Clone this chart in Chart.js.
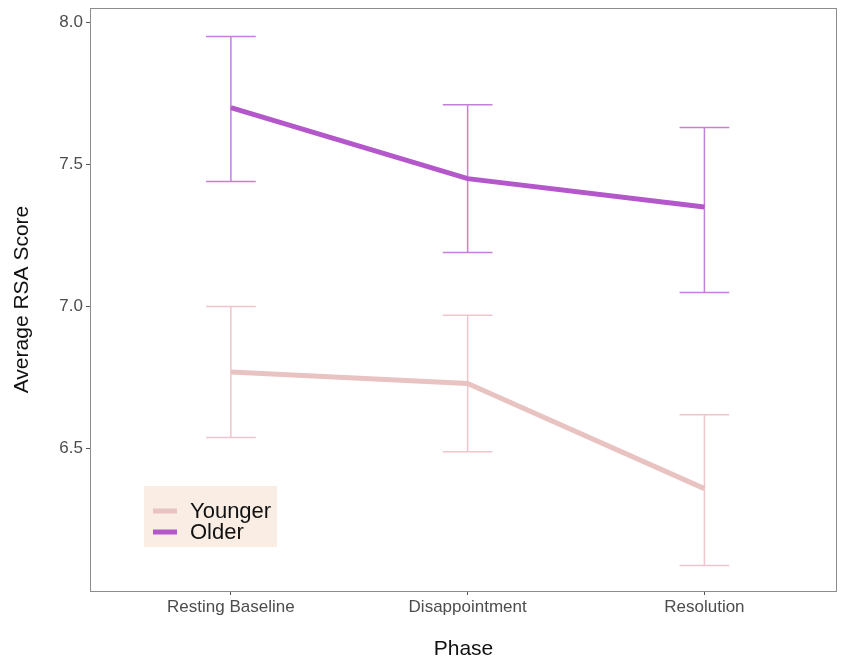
<!DOCTYPE html>
<html>
<head>
<meta charset="utf-8">
<script src="https://cdn.jsdelivr.net/npm/chart.js@4.4.1/dist/chart.umd.min.js"></script>
<style>
  html, body { margin: 0; padding: 0; background: #fff; }
  canvas { display: block; }
</style>
</head>
<body>
<canvas id="rsa" width="847" height="659"></canvas>
<script>
// phases on the x axis
const phases = ['Resting Baseline', 'Disappointment', 'Resolution'];
const yTicks = [6.5, 7.0, 7.5, 8.0];

// group means and error bar limits
const youngerMean = [6.77, 6.73, 6.36];
const youngerLow = [6.54, 6.49, 6.09];
const youngerHigh = [7.00, 6.97, 6.62];

const olderMean = [7.70, 7.45, 7.35];
const olderLow = [7.44, 7.19, 7.05];
const olderHigh = [7.95, 7.71, 7.63];

const toPoints = arr => arr.map((v, i) => ({ x: i, y: v }));
const FONT = '"Liberation Sans", Arial, sans-serif';

// error bars drawn through the chart scales
const errorBars = {
  id: 'errorBars',
  beforeDatasetsDraw(chart) {
    const { ctx, scales: { x, y } } = chart;
    chart.data.datasets.forEach(ds => {
      ctx.save();
      ctx.strokeStyle = ds.errColor;
      ctx.lineWidth = 1.5;
      ds.low.forEach((lo, i) => {
        const hi = ds.high[i];
        const cx = x.getPixelForValue(i);
        const x0 = x.getPixelForValue(i - 0.105);
        const x1 = x.getPixelForValue(i + 0.105);
        const yl = y.getPixelForValue(lo);
        const yh = y.getPixelForValue(hi);
        ctx.beginPath();
        ctx.moveTo(cx, yl); ctx.lineTo(cx, yh);
        ctx.moveTo(x0, yl); ctx.lineTo(x1, yl);
        ctx.moveTo(x0, yh); ctx.lineTo(x1, yh);
        ctx.stroke();
      });
      ctx.restore();
    });
  }
};

// panel border + legend box inside the plot
const panelExtras = {
  id: 'panelExtras',
  afterDraw(chart) {
    const { ctx, chartArea: a } = chart;
    ctx.save();
    ctx.strokeStyle = '#8c8c8c';
    ctx.lineWidth = 1;
    ctx.strokeRect(a.left + 0.5, a.top + 0.5, a.right - a.left - 1, a.bottom - a.top);

    // legend
    const bx = 144, by = 486;
    ctx.fillStyle = '#f9ede4';
    ctx.fillRect(bx, by, 133, 61);
    ctx.font = '22px ' + FONT;
    ctx.textBaseline = 'middle';
    chart.data.datasets.forEach((ds, i) => {
      const ly = by + 25 + i * 21;
      ctx.strokeStyle = ds.borderColor;
      ctx.lineWidth = 5;
      ctx.beginPath();
      ctx.moveTo(bx + 9, ly); ctx.lineTo(bx + 33, ly);
      ctx.stroke();
      ctx.fillStyle = '#111';
      ctx.fillText(ds.label, bx + 46, ly + 1);
    });
    ctx.restore();
  }
};

new Chart(document.getElementById('rsa'), {
  type: 'line',
  data: {
    datasets: [
      {
        label: 'Younger',
        data: toPoints(youngerMean),
        low: youngerLow,
        high: youngerHigh,
        borderColor: '#e8c3c1',
        errColor: '#f2c4cb',
        borderWidth: 5,
        pointRadius: 0,
        tension: 0
      },
      {
        label: 'Older',
        data: toPoints(olderMean),
        low: olderLow,
        high: olderHigh,
        borderColor: '#b357cb',
        errColor: '#c47fd6',
        borderWidth: 5,
        pointRadius: 0,
        tension: 0
      }
    ]
  },
  options: {
    responsive: false,
    animation: false,
    devicePixelRatio: 1,
    layout: { padding: { left: 0, top: 8, right: 10, bottom: 0 } },
    plugins: {
      legend: { display: false },
      tooltip: { enabled: false }
    },
    scales: {
      x: {
        type: 'linear',
        min: -0.595,
        max: 2.56,
        afterBuildTicks: s => { s.ticks = phases.map((_, i) => ({ value: i })); },
        afterFit: s => { s.height = 68; s.paddingLeft = 0; s.paddingRight = 0; },
        ticks: {
          callback: v => phases[v],
          color: '#4d4d4d',
          font: { size: 17, family: FONT },
          padding: 2,
          maxRotation: 0,
          autoSkip: false
        },
        grid: { drawOnChartArea: false, drawTicks: true, tickLength: 4, color: '#555' },
        border: { display: false },
        title: {
          display: true,
          text: 'Phase',
          color: '#111',
          font: { size: 21, family: FONT },
          padding: { top: 0, bottom: -3 }
        }
      },
      y: {
        min: 6.0,
        max: 8.05,
        afterBuildTicks: s => { s.ticks = yTicks.map(v => ({ value: v })); },
        afterFit: s => { s.width = 90; s.paddingTop = 0; s.paddingBottom = 0; },
        ticks: {
          callback: v => v.toFixed(1),
          color: '#4d4d4d',
          font: { size: 17, family: FONT },
          padding: 3
        },
        grid: { drawOnChartArea: false, drawTicks: true, tickLength: 4, color: '#555' },
        border: { display: false },
        title: {
          display: true,
          text: 'Average RSA Score',
          color: '#111',
          font: { size: 21, family: FONT },
          padding: { top: 10, bottom: 4 }
        }
      }
    }
  },
  plugins: [errorBars, panelExtras]
});
</script>
</body>
</html>
